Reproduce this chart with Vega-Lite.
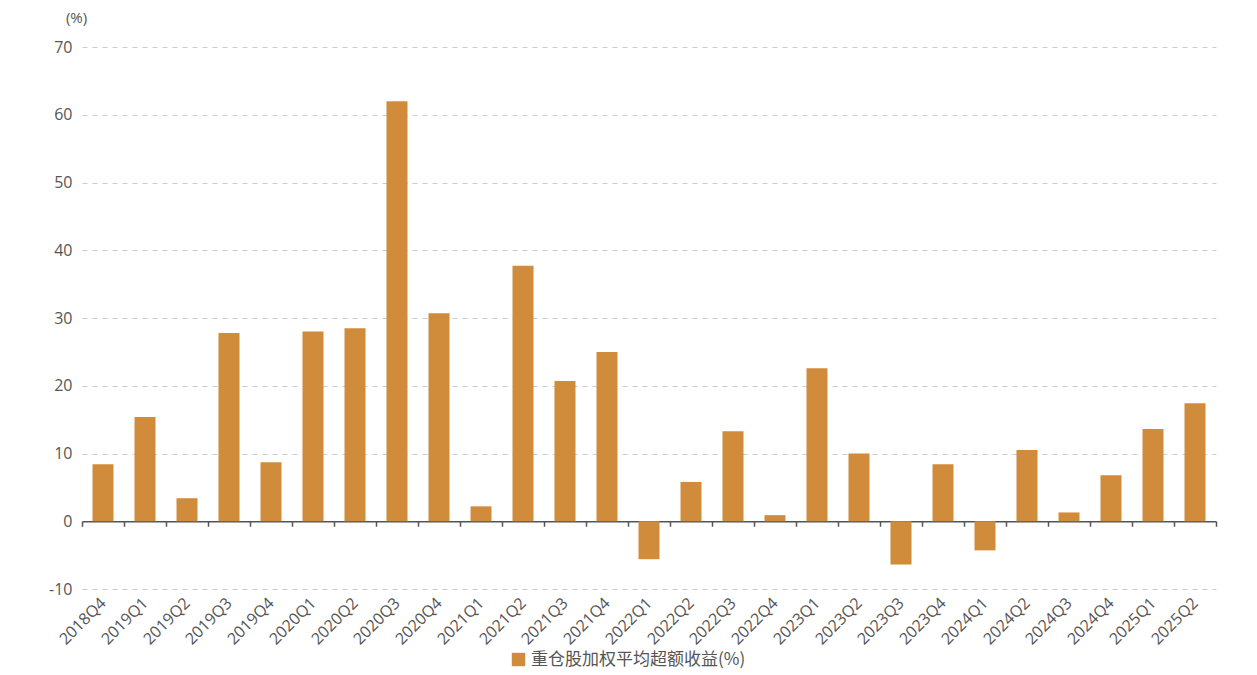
{
  "$schema": "https://vega.github.io/schema/vega-lite/v6.json",
  "autosize": {"type": "none"},
  "padding": {"left": 82, "top": 47, "right": 41, "bottom": 86},
  "width": 1134,
  "height": 542,
  "background": "white",
  "config": {
    "font": "Open Sans",
    "view": {"stroke": null}
  },
  "data": {
    "values": [
      {"q": "2018Q4", "v": 8.4},
      {"q": "2019Q1", "v": 15.4},
      {"q": "2019Q2", "v": 3.4},
      {"q": "2019Q3", "v": 27.8},
      {"q": "2019Q4", "v": 8.7},
      {"q": "2020Q1", "v": 28.0},
      {"q": "2020Q2", "v": 28.5},
      {"q": "2020Q3", "v": 62.0},
      {"q": "2020Q4", "v": 30.7},
      {"q": "2021Q1", "v": 2.2},
      {"q": "2021Q2", "v": 37.7},
      {"q": "2021Q3", "v": 20.7},
      {"q": "2021Q4", "v": 25.0},
      {"q": "2022Q1", "v": -5.6},
      {"q": "2022Q2", "v": 5.8},
      {"q": "2022Q3", "v": 13.3},
      {"q": "2022Q4", "v": 0.9},
      {"q": "2023Q1", "v": 22.6},
      {"q": "2023Q2", "v": 10.0},
      {"q": "2023Q3", "v": -6.4},
      {"q": "2023Q4", "v": 8.4},
      {"q": "2024Q1", "v": -4.3},
      {"q": "2024Q2", "v": 10.5},
      {"q": "2024Q3", "v": 1.3},
      {"q": "2024Q4", "v": 6.8},
      {"q": "2025Q1", "v": 13.6},
      {"q": "2025Q2", "v": 17.4}
    ]
  },
  "transform": [{"calculate": "'重仓股加权平均超额收益(%)'", "as": "series"}],
  "mark": {"type": "bar", "width": {"band": 0.5}},
  "encoding": {
    "x": {
      "field": "q",
      "type": "nominal",
      "sort": null,
      "scale": {"paddingInner": 0, "paddingOuter": 0},
      "axis": {
        "title": null,
        "offset": -67.75,
        "tickBand": "extent",
        "tickSize": 5,
        "tickColor": "#555",
        "tickWidth": 1.5,
        "domainColor": "#555",
        "domainWidth": 1.5,
        "labelAngle": -45,
        "labelAlign": "right",
        "labelBaseline": "middle",
        "labelPadding": 74,
        "labelFontSize": 16,
        "labelColor": "#555",
        "labelFont": "Open Sans"
      }
    },
    "y": {
      "field": "v",
      "type": "quantitative",
      "scale": {"domain": [-10, 70], "nice": false},
      "axis": {
        "values": [-10, 0, 10, 20, 30, 40, 50, 60, 70],
        "labelExpr": "replace(datum.label, '−', '-')",
        "title": "(%)",
        "titleAngle": 0,
        "titleX": -6,
        "titleY": -30,
        "titleAlign": "center",
        "titleBaseline": "middle",
        "titleFontSize": 15,
        "titleFontWeight": "normal",
        "titleColor": "#555",
        "domain": false,
        "ticks": false,
        "labelPadding": 10,
        "labelFontSize": 16,
        "labelColor": "#555",
        "gridColor": "#ccc",
        "gridDash": [5, 5],
        "gridWidth": 1
      }
    },
    "color": {
      "field": "series",
      "type": "nominal",
      "scale": {"range": ["#D08C3A"]},
      "legend": {
        "title": null,
        "orient": "none",
        "legendX": 428,
        "legendY": 604,
        "symbolType": "square",
        "symbolSize": 180,
        "labelFontSize": 17,
        "labelLimit": 400,
        "labelColor": "#555",
        "labelFont": "Noto Sans CJK SC"
      }
    }
  }
}
